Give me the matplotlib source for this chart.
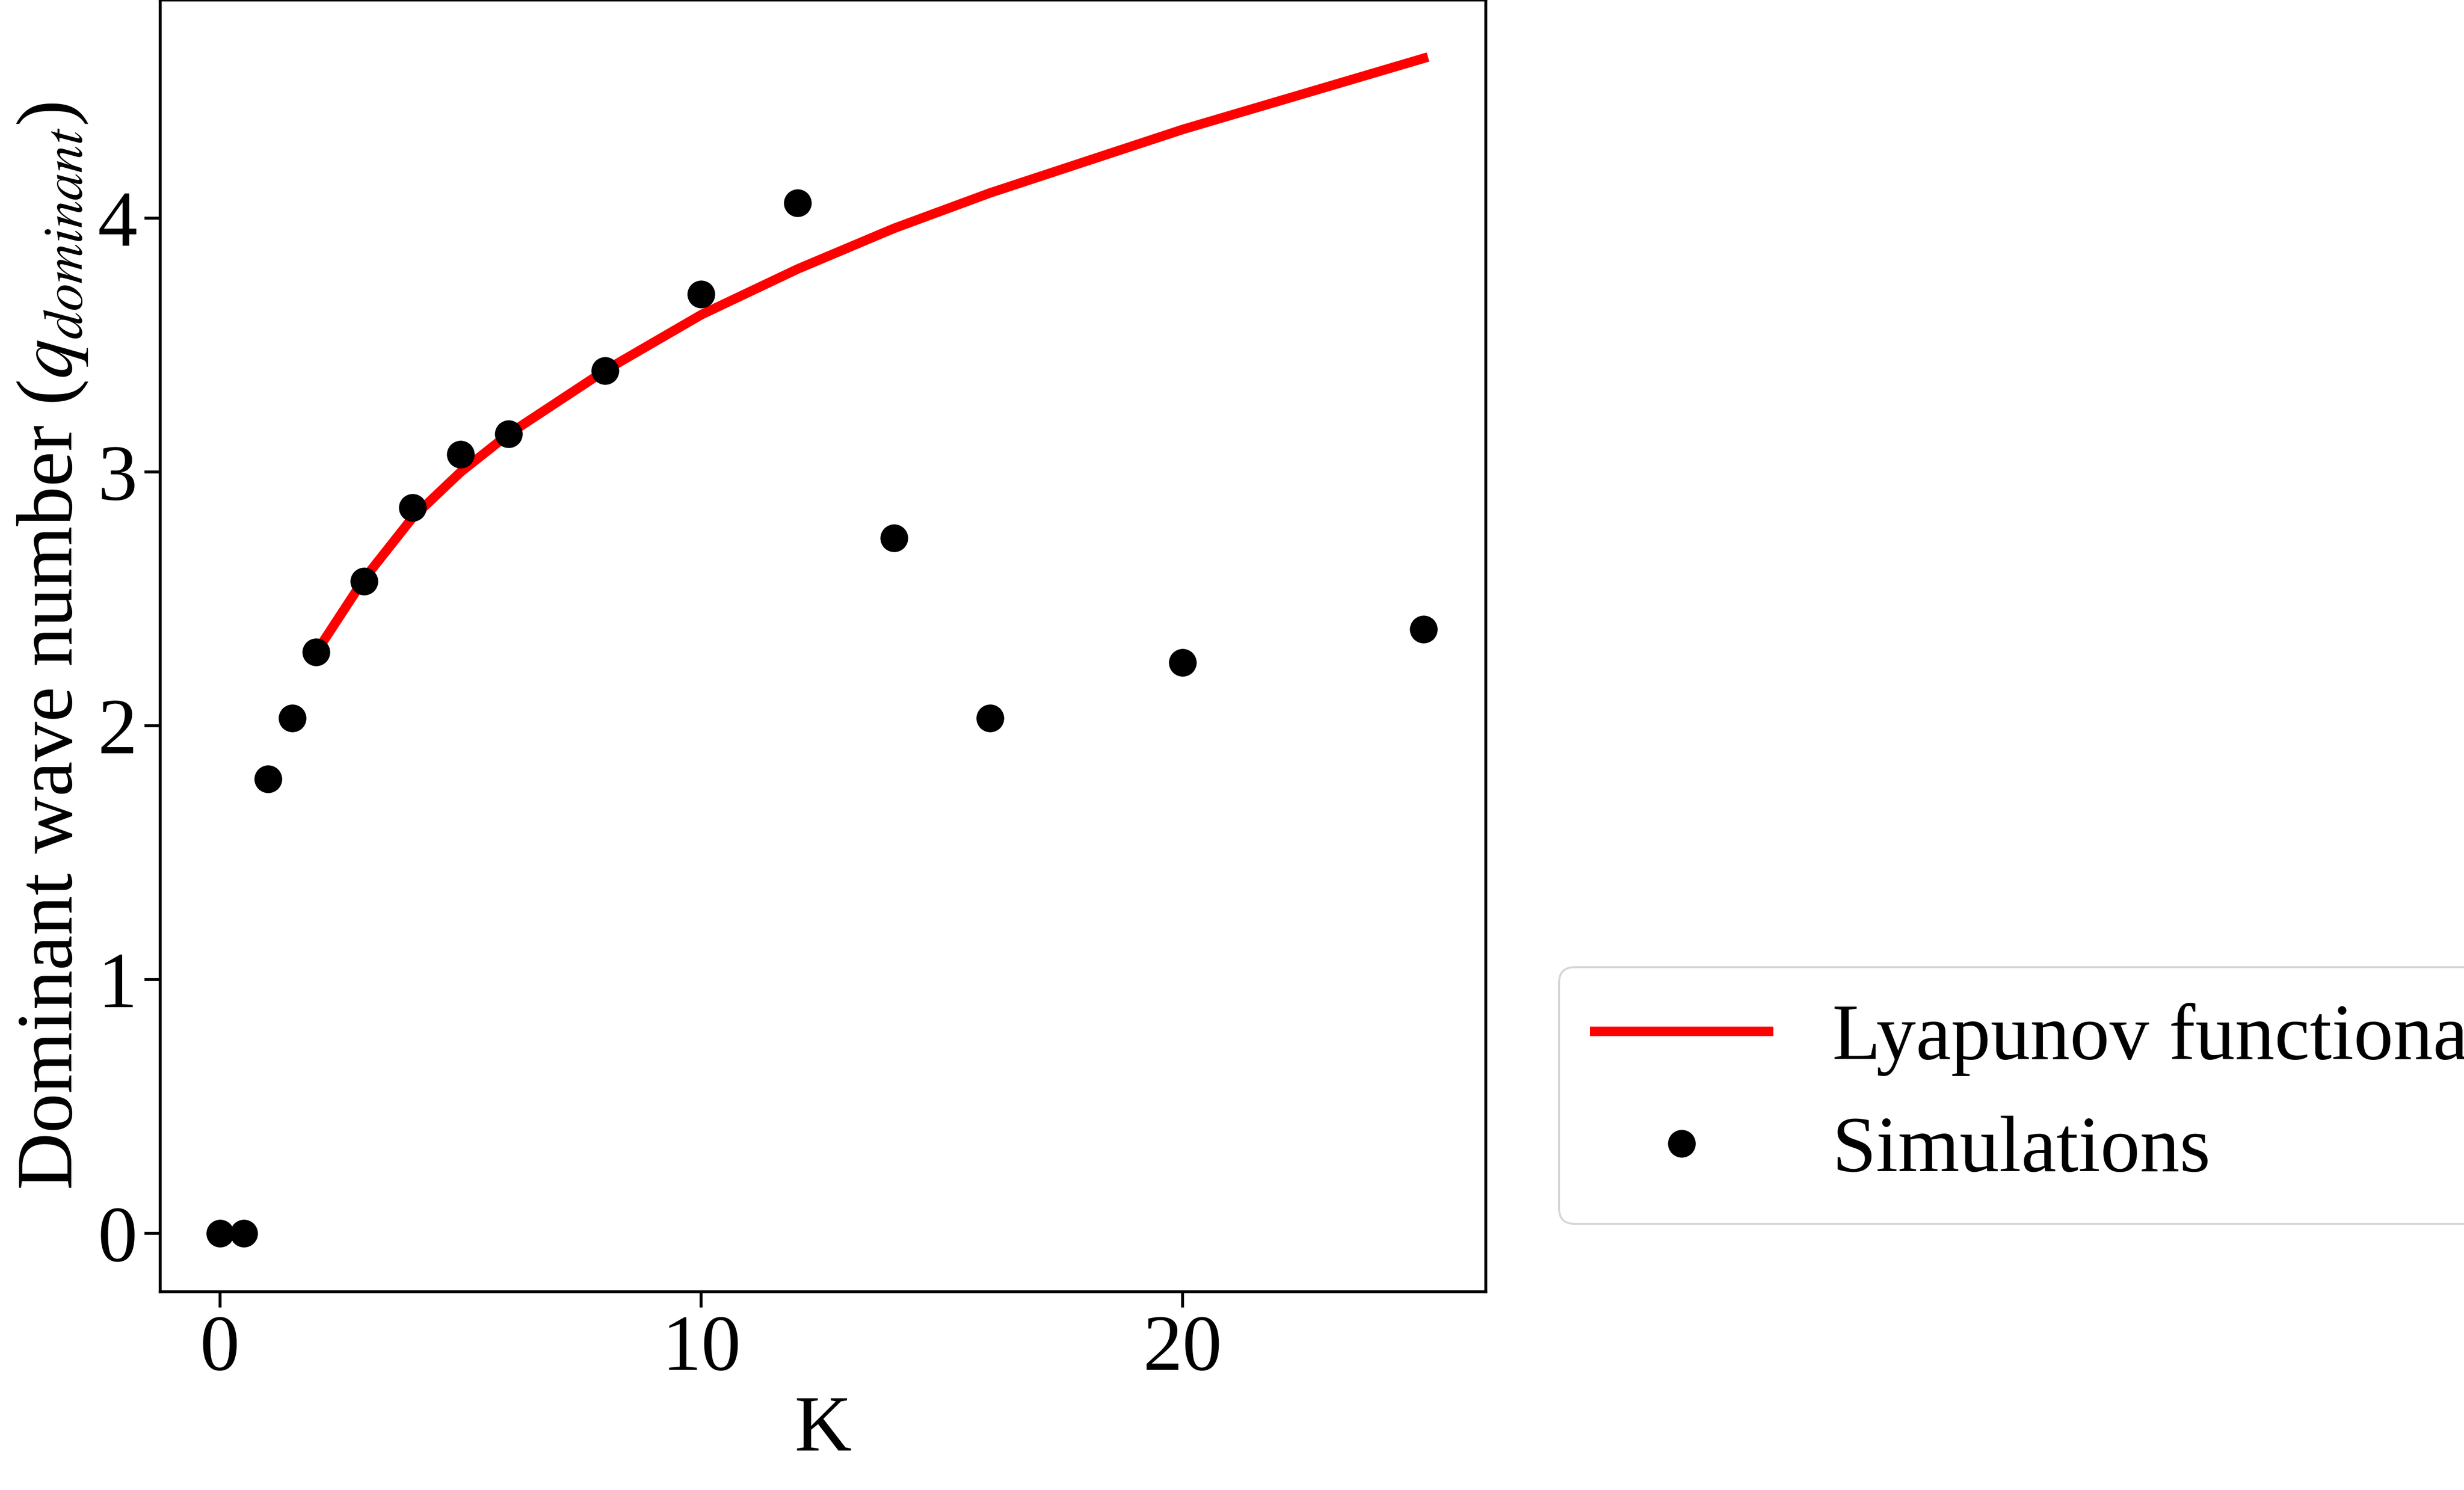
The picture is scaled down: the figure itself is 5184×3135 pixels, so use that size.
import matplotlib
matplotlib.use("Agg")
import matplotlib.pyplot as plt

plt.rcParams['font.family'] = ['Liberation Serif', 'DejaVu Serif']
plt.rcParams['mathtext.fontset'] = 'stix'

# simulations
sim_k = [0, 0.5, 1, 1.5, 2, 3, 4, 5, 6, 8, 10, 12, 14, 16, 20, 25]
sim_q = [0, 0, 1.79, 2.03, 2.29, 2.57, 2.86, 3.07, 3.15, 3.40, 3.70, 4.06, 2.74, 2.03, 2.25, 2.38]

# Lyapunov functional prediction
lyap_k = [2, 3, 4, 5, 6, 8, 10, 12, 14, 16, 20, 25]
lyap_q = [2.29, 2.58, 2.82, 3.00, 3.15, 3.40, 3.62, 3.80, 3.96, 4.10, 4.35, 4.63]

FS = 40

fig = plt.figure(figsize=(17.283, 10.45), dpi=300)
ax = fig.add_axes([0.065, 0.133, 0.538, 0.867])
ax.plot(lyap_k, lyap_q, color='red', lw=4.8, label='Lyapunov functional')
ax.plot(sim_k, sim_q, 'o', color='black', ms=13, label='Simulations')
ax.set_xlim(-1.24, 26.3)
ax.set_ylim(-0.23, 4.86)
ax.set_xticks([0, 10, 20])
ax.set_yticks([0, 1, 2, 3, 4])
ax.tick_params(labelsize=FS, length=8, width=1.5)
for s in ax.spines.values():
    s.set_linewidth(1.5)
ax.set_xlabel('K', fontsize=FS, labelpad=4)
ax.set_ylabel(r'Dominant wave number ($q_{dominant}$)', fontsize=FS, labelpad=4)
ax.legend(loc='center left', bbox_to_anchor=(1.025, 0.152), fontsize=FS,
          handlelength=2.2, borderpad=0.45)
fig.savefig('out.png')
